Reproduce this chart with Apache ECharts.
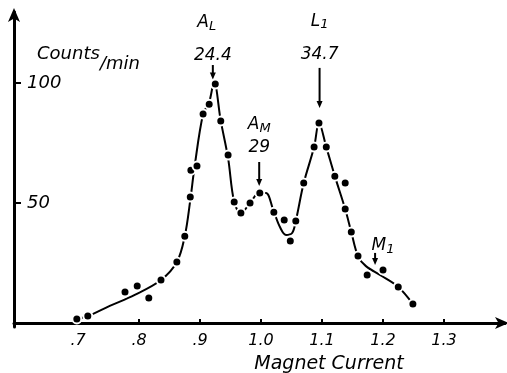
<!DOCTYPE html>
<html><head><meta charset="utf-8">
<script src="https://cdn.jsdelivr.net/npm/echarts@6/dist/echarts.min.js"></script>
<style>html,body{margin:0;padding:0;background:#fff}#c{width:507px;height:373px}</style>
</head><body><div id="c"></div>
<script>
// Measured points (magnet current, counts/min)
const pointX = [0.698, 0.716, 0.777, 0.797, 0.816, 0.836, 0.862, 0.875, 0.884, 0.885, 0.895, 0.905, 0.915, 0.925, 0.934, 0.946, 0.956, 0.967, 0.982, 0.998, 1.021, 1.038, 1.048, 1.057, 1.070, 1.087, 1.095, 1.107, 1.121, 1.138, 1.138, 1.148, 1.159, 1.174, 1.200, 1.225, 1.249];
const pointY = [1.7, 2.9, 12.9, 15.4, 10.4, 17.9, 25.4, 36.2, 52.5, 63.7, 65.4, 87.1, 91.2, 99.6, 84.2, 70.0, 50.4, 45.8, 50.0, 54.2, 46.2, 42.9, 34.2, 42.5, 58.3, 73.3, 83.3, 73.3, 61.2, 58.3, 47.5, 37.9, 27.9, 20.0, 22.1, 15.0, 7.9];
// Hand-drawn fitted curve
const curveX = [0.698, 0.716, 0.752, 0.793, 0.836, 0.862, 0.875, 0.884, 0.891, 0.905, 0.915, 0.923, 0.934, 0.946, 0.956, 0.967, 0.982, 0.997, 1.008, 1.020, 1.031, 1.041, 1.051, 1.057, 1.070, 1.087, 1.095, 1.107, 1.121, 1.138, 1.148, 1.159, 1.172, 1.195, 1.225, 1.249];
const curveY = [1.7, 2.9, 7.1, 11.7, 17.9, 25.4, 36.2, 51.2, 65.0, 87.1, 92.0, 100.4, 84.2, 68.7, 50.4, 45.8, 50.0, 54.2, 54.2, 47.1, 40.0, 36.7, 37.5, 42.5, 58.3, 73.3, 83.3, 73.3, 61.2, 47.5, 37.9, 27.9, 23.7, 20.0, 15.0, 7.9];
// Axis ticks
const xTickValues = [0.7, 0.8, 0.9, 1.0, 1.1, 1.2, 1.3];
const xTickLabels = ['.7', '.8', '.9', '1.0', '1.1', '1.2', '1.3'];
const yTickValues = [50, 100];
const yTickLabels = ['50', '100'];
// Peak annotations
const peakNames = ['A', 'L', 'A', 'M'];
const peakSubs = ['L', '1', 'M', '1'];
const peakEnergies = ['24.4', '34.7', '29', ''];
const peakCurrents = [0.921, 1.096, 0.997, 1.187];

// Layout of annotations (data-space heights)
const annLayout = [
  {nameDx: -0.01, nameY: 125, energyY: 111.3, arrowTop: 107.5, arrowBottom: 101.5},
  {nameDx: 0, nameY: 125.8, energyY: 111.7, arrowTop: 106.3, arrowBottom: 89.6},
  {nameDx: 0, nameY: 82.5, energyY: 73.3, arrowTop: 67.1, arrowBottom: 57.1},
  {nameDx: 0.013, nameY: 32.1, energyY: null, arrowTop: 29.2, arrowBottom: 24.2}
];

const FONT = 'DejaVu Sans';
const chart = echarts.init(document.getElementById('c'), null, {renderer: 'canvas'});
function lab(arr, vals, v) {
  for (let i = 0; i < vals.length; i++) if (Math.abs(vals[i] - v) < 1e-6) return arr[i];
  return '';
}
chart.setOption({
  animation: false,
  backgroundColor: '#fff',
  grid: {left: 14, right: 2, top: 12, bottom: 46},
  xAxis: {
    type: 'value', min: 0.595, max: 1.40,
    splitLine: {show: false},
    axisLine: {lineStyle: {color: '#000', width: 3}, symbol: ['none', 'arrow'], symbolSize: [9, 14], symbolOffset: [0, 4]},
    axisTick: {show: true, inside: true, length: 4, customValues: xTickValues, lineStyle: {color: '#000', width: 2}},
    axisLabel: {customValues: xTickValues, formatter: v => lab(xTickLabels, xTickValues, v), color: '#000', fontFamily: FONT, fontStyle: 'italic', fontSize: 16, margin: 6}
  },
  yAxis: {
    type: 'value', min: -1.67, max: 129.6,
    splitLine: {show: false},
    axisLine: {lineStyle: {color: '#000', width: 3}, symbol: ['none', 'arrow'], symbolSize: [9, 14], symbolOffset: [0, 4]},
    axisTick: {show: true, inside: true, length: 7, customValues: yTickValues, lineStyle: {color: '#000', width: 2}},
    axisLabel: {inside: true, customValues: yTickValues, formatter: v => lab(yTickLabels, yTickValues, v), color: '#000', fontFamily: FONT, fontStyle: 'italic', fontSize: 18, margin: 13}
  },
  series: [
    {type: 'line', data: curveX.map((x, i) => [x, curveY[i]]), smooth: 0.35, showSymbol: false, symbol: 'none',
     lineStyle: {color: '#000', width: 2}, z: 2, silent: true},
    {type: 'scatter', data: pointX.map((x, i) => [x, pointY[i]]), symbolSize: 9,
     itemStyle: {color: '#000', borderColor: '#fff', borderWidth: 2, opacity: 1}, z: 3}
  ]
});

const g = [];
const px = (x, y) => chart.convertToPixel({gridIndex: 0}, [x, y]);
peakCurrents.forEach((c, i) => {
  const L = annLayout[i];
  const pn = px(c + L.nameDx, L.nameY);
  g.push({type: 'text', x: pn[0], y: pn[1], style: {
    text: '{a|' + peakNames[i] + '}{s|' + peakSubs[i] + '}', align: 'center', verticalAlign: 'middle',
    rich: {a: {fontFamily: FONT, fontStyle: 'italic', fontSize: 17, fill: '#000'},
           s: {fontFamily: FONT, fontStyle: 'italic', fontSize: 13, fill: '#000', verticalAlign: 'bottom', padding: [7, 0, 0, 0]}}
  }});
  if (L.energyY !== null && peakEnergies[i]) {
    const pe = px(c, L.energyY);
    g.push({type: 'text', x: pe[0], y: pe[1], style: {text: peakEnergies[i], align: 'center', verticalAlign: 'middle',
      fontFamily: FONT, fontStyle: 'italic', fontSize: 17, fill: '#000'}});
  }
  const a1 = px(c, L.arrowTop), a2 = px(c, L.arrowBottom);
  g.push({type: 'line', shape: {x1: a1[0], y1: a1[1], x2: a2[0], y2: a2[1] - 4}, style: {stroke: '#000', lineWidth: 2}});
  g.push({type: 'polygon', shape: {points: [[a2[0] - 3, a2[1] - 7], [a2[0] + 3, a2[1] - 7], [a2[0], a2[1]]]}, style: {fill: '#000'}});
});
g.push({type: 'text', left: 37, top: 45, style: {text: 'Counts', fontFamily: FONT, fontStyle: 'italic', fontSize: 18, fill: '#000'}});
g.push({type: 'text', left: 100, top: 55, style: {text: '/min', fontFamily: FONT, fontStyle: 'italic', fontSize: 18, fill: '#000'}});
g.push({type: 'text', x: 329, y: 364, style: {text: 'Magnet Current', align: 'center', verticalAlign: 'middle', fontFamily: FONT, fontStyle: 'italic', fontSize: 19, fill: '#000'}});
chart.setOption({graphic: g});
</script></body></html>
